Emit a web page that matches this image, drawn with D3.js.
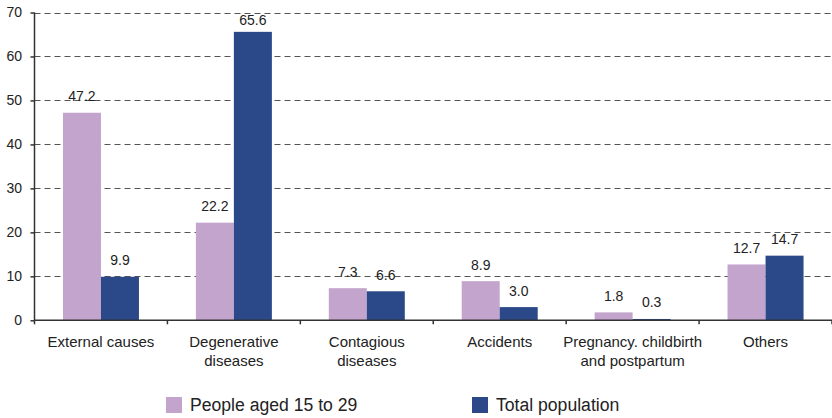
<!DOCTYPE html>
<html>
<head>
<meta charset="utf-8">
<script src="https://cdn.jsdelivr.net/npm/d3@7"></script>
<style>
html,body{margin:0;padding:0;background:#fff;}
svg{display:block;font-family:"Liberation Sans",Arial,sans-serif;}
</style>
</head>
<body>
<svg id="chart" width="832" height="418"></svg>
<script>
const categories = [
  ["External causes"],
  ["Degenerative", "diseases"],
  ["Contagious", "diseases"],
  ["Accidents"],
  ["Pregnancy. childbirth", "and postpartum"],
  ["Others"]
];
const seriesNames = ["People aged 15 to 29", "Total population"];
const youth = [47.2, 22.2, 7.3, 8.9, 1.8, 12.7];
const total = [9.9, 65.6, 6.6, 3.0, 0.3, 14.7];
const yTicks = [0, 10, 20, 30, 40, 50, 60, 70];
const colors = ["#c2a4cd", "#2b4888"];

(function () {
const svg = d3.select("#chart");
const mLeft = 34.5, mRight = 832, mTop = 12.5, mBottom = 320.3;

const x0 = d3.scaleBand().domain(d3.range(categories.length)).range([mLeft, mRight]).paddingInner(0).paddingOuter(0);
const x1 = d3.scaleBand().domain([0, 1]).range([0, 76]);
const y = d3.scaleLinear().domain([0, 70]).range([mBottom, mTop]);

// gridlines
svg.append("g").selectAll("line").data(yTicks.filter(d => d > 0)).join("line")
  .attr("x1", mLeft).attr("x2", mRight)
  .attr("y1", d => Math.round(y(d)) + 0.5).attr("y2", d => Math.round(y(d)) + 0.5)
  .attr("stroke", "#555").attr("stroke-width", 1).attr("stroke-dasharray", "6,4");

// bars
const series = [youth, total];
const groups = svg.append("g").selectAll("g").data(categories).join("g")
  .attr("transform", (d, i) => `translate(${x0(i) + x0.bandwidth() / 2 - 38},0)`);

groups.each(function (d, i) {
  const g = d3.select(this);
  series.forEach((s, k) => {
    const v = s[i];
    g.append("rect")
      .attr("x", x1(k)).attr("width", x1.bandwidth())
      .attr("y", y(v)).attr("height", mBottom - y(v))
      .attr("fill", colors[k]);
    const cy = Math.max(y(v) - 16.5, 20);
    g.append("text")
      .attr("x", x1(k) + x1.bandwidth() / 2).attr("y", cy)
      .attr("dy", "0.35em").attr("text-anchor", "middle")
      .attr("font-size", 14).attr("fill", "#222")
      .text(v.toFixed(1));
  });
});

// y axis
const yAxis = svg.append("g").attr("transform", `translate(${mLeft},0)`)
  .call(d3.axisLeft(y).tickValues(yTicks).tickSize(4).tickPadding(8.5).tickFormat(d3.format("d")));
yAxis.select(".domain").attr("stroke", "#333").attr("stroke-width", 1.5).attr("d", `M0,${mTop}V${mBottom}`);
yAxis.selectAll(".tick line").attr("stroke", "#333").attr("stroke-width", 1.5);
yAxis.selectAll(".tick text").attr("font-size", 14).attr("fill", "#222").attr("font-family", "Liberation Sans, Arial, sans-serif");

// x axis
const xAxisG = svg.append("g");
xAxisG.append("line").attr("x1", mLeft).attr("x2", mRight).attr("y1", mBottom).attr("y2", mBottom)
  .attr("stroke", "#333").attr("stroke-width", 1.5);
xAxisG.selectAll("line.tk").data(d3.range(categories.length + 1)).join("line").attr("class", "tk")
  .attr("x1", i => i < categories.length ? x0(i) : mRight).attr("x2", i => i < categories.length ? x0(i) : mRight)
  .attr("y1", mBottom).attr("y2", mBottom + 4)
  .attr("stroke", "#333").attr("stroke-width", 1.5);

xAxisG.selectAll("text.cat").data(categories).join("text").attr("class", "cat")
  .attr("text-anchor", "middle").attr("font-size", 15).attr("fill", "#222")
  .each(function (lines, i) {
    const t = d3.select(this);
    lines.forEach((ln, j) => {
      t.append("tspan").attr("x", x0(i) + x0.bandwidth() / 2)
        .attr("y", 342 + j * 18.5).attr("dy", "0.35em").text(ln);
    });
  });

// legend
const legendX = [166, 472];
const leg = svg.append("g").selectAll("g").data(seriesNames).join("g")
  .attr("transform", (d, i) => `translate(${legendX[i]},397)`);
leg.append("rect").attr("width", 16).attr("height", 16).attr("fill", (d, i) => colors[i]);
leg.append("text").attr("x", 24).attr("y", 8).attr("dy", "0.35em")
  .attr("font-size", 17.6).attr("fill", "#222").text(d => d);
})();
</script>
</body>
</html>
